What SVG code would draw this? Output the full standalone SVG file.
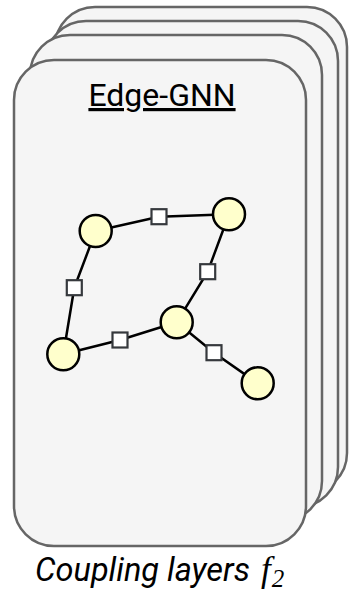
<svg xmlns="http://www.w3.org/2000/svg" width="349" height="594" viewBox="0 0 349 594">
<style>
.card{fill:#f5f5f5;stroke:#666666;stroke-width:2.5}
.edge{fill:none;stroke:#000000;stroke-width:2.5}
.node{fill:#ffffcc;stroke:#000000;stroke-width:2.5}
.sq{fill:#ffffff;stroke:#36393d;stroke-width:2.2}
.title{font-family:Roboto,"Liberation Sans",sans-serif;font-size:32px;fill:#000000;text-decoration:underline;text-decoration-thickness:3.5px}
.cap{font-family:Roboto,"Liberation Sans",sans-serif;font-size:32.5px;font-style:italic;fill:#000000}
.math{font-family:"Liberation Serif","DejaVu Serif",serif;font-style:italic}
</style>
<g id="stack">
<rect class="card" x="55" y="7" width="292" height="486" rx="40" ry="40"/>
<rect class="card" x="46" y="21" width="292" height="486" rx="40" ry="40"/>
<rect class="card" x="30" y="35" width="292" height="486" rx="40" ry="40"/>
<rect class="card" x="14" y="60" width="292" height="486" rx="40" ry="40"/>
</g>
<g id="title"><text class="title" x="162" y="106" text-anchor="middle">Edge-GNN</text></g>
<g id="connectors">
<polyline class="edge" points="95.7,231 159,216.7 229,214.3"/>
<polyline class="edge" points="95.7,231 74.3,287.7 63.3,354.3"/>
<polyline class="edge" points="229,214.3 207.7,271.7 176.7,322.3"/>
<polyline class="edge" points="63.3,354.3 120,340 176.7,322.3"/>
<polyline class="edge" points="176.7,322.3 214,352.7 257.7,383.3"/>
</g>
<g id="nodeA"><circle class="node" cx="95.7" cy="231" r="16"/></g>
<g id="nodeB"><circle class="node" cx="229" cy="214.3" r="16"/></g>
<g id="nodeC"><circle class="node" cx="176.7" cy="322.3" r="16"/></g>
<g id="nodeD"><circle class="node" cx="63.3" cy="354.3" r="16"/></g>
<g id="nodeE"><circle class="node" cx="257.7" cy="383.3" r="16"/></g>
<g id="edgeAB"><rect class="sq" x="151.5" y="209.2" width="15" height="15"/></g>
<g id="edgeAD"><rect class="sq" x="66.8" y="280.2" width="15" height="15"/></g>
<g id="edgeBC"><rect class="sq" x="200.2" y="264.2" width="15" height="15"/></g>
<g id="edgeDC"><rect class="sq" x="112.5" y="332.5" width="15" height="15"/></g>
<g id="edgeCE"><rect class="sq" x="206.5" y="345.2" width="15" height="15"/></g>
<g id="caption"><text class="cap" x="35" y="581">Coupling layers <tspan class="math" font-size="35" dx="3">f</tspan><tspan class="math" font-size="25" dx="1" dy="6">2</tspan></text></g>
</svg>
